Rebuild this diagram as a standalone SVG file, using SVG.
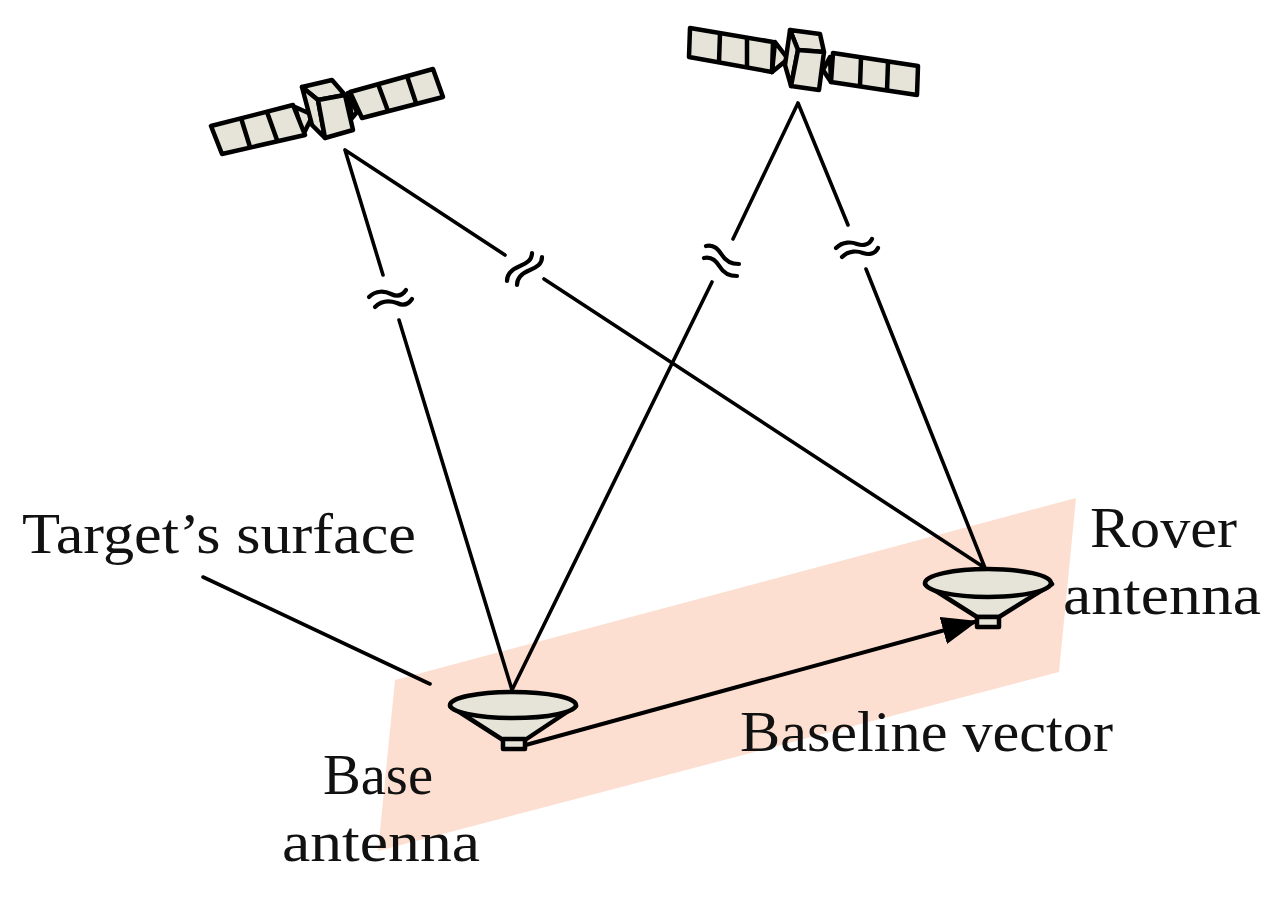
<svg xmlns="http://www.w3.org/2000/svg" width="1280" height="907" viewBox="0 0 1280 907">
<style>
.s{fill:#e6e4d8;stroke:#000;stroke-width:4.5;stroke-linejoin:round}
.d{fill:none;stroke:#000;stroke-width:4.5}
.l{fill:none;stroke:#000;stroke-width:3.6;stroke-linecap:round}
.w{fill:none;stroke:#000;stroke-width:4.2;stroke-linecap:round}
.t{font-family:"Liberation Serif",serif;font-size:58px;fill:#111}
</style>
<defs><marker id="a" markerUnits="userSpaceOnUse" markerWidth="40" markerHeight="30" refX="36" refY="14" orient="auto"><path d="M0,0L36,14L0,28Z" fill="#000"/></marker></defs>
<rect width="1280" height="907" fill="#fff"/>
<g id="surface"><polygon points="395,680 1076,498 1059,672 378,851" fill="#fcdfd0"/></g>
<g id="connectors">
<path class="l" d="M345,150L383,275M399,320L512,690M345,150L505,255M544,279L985,568M798,103L733,239M712,282L512,690M798,103L848,225M866,269L985,568M203,577L430,684"/>
<path class="w" d="M369,297C376,290 385,291 391,294C397,297 402,296 406,290M375,307C382,300 391,301 397,303C403,306 408,305 412,299"/>
<path class="w" d="M507,281C507,272 515,268 520,266C527,263 532,260 532,253M517,285C517,276 525,272 530,270C537,267 542,264 542,257"/>
<path class="w" d="M706,246C714,244 719,250 722,255C726,262 733,264 739,264M704,258C712,256 717,262 720,267C724,274 731,276 737,276"/>
<path class="w" d="M836,248C843,241 852,242 857,244C863,246 869,245 872,239M842,257C849,250 858,251 863,253C869,255 875,254 878,248"/>
<path d="M522,746L978,621" fill="none" stroke="#000" stroke-width="4" marker-end="url(#a)"/>
</g>
<g id="satellite-1">
<polygon class="s" points="295,107 313,115 303,135"/>
<polygon class="s" points="211,126 293,105 305,135 222,154"/>
<path class="d" d="M241,118L250,147M267,112L277,140"/>
<polygon class="s" points="348,93 357,112 352,118"/>
<polygon class="s" points="350,92 433,69 443,97 362,118"/>
<path class="d" d="M378,84L388,111M407,76L416,103"/>
<polygon class="s" points="302,87 332,80 345,95 318,100"/>
<polygon class="s" points="302,87 318,100 325,138 312,125"/>
<polygon class="s" points="318,100 345,95 353,130 325,138"/>
</g>
<g id="satellite-2">
<polygon class="s" points="775,42 788,59 772,72"/>
<polygon class="s" points="690,28 773,42 772,72 689,57"/>
<path class="d" d="M720,33L719,62M747,38L747,67"/>
<polygon class="s" points="830,57 823,70 831,82"/>
<polygon class="s" points="833,53 918,66 917,95 831,82"/>
<path class="d" d="M861,58L860,86M888,62L887,91"/>
<polygon class="s" points="790,30 820,34 824,52 798,50"/>
<polygon class="s" points="790,30 798,50 791,86 785,65"/>
<polygon class="s" points="798,50 824,52 819,90 791,86"/>
</g>
<g id="base-antenna">
<path class="s" d="M450,706L503,740H525L576,706Z"/>
<rect class="s" x="503" y="739" width="22" height="10"/>
<ellipse class="s" cx="513" cy="705" rx="63" ry="13"/>
</g>
<g id="rover-antenna">
<path class="s" d="M925,584L977,617H999L1052,584Z"/>
<rect class="s" x="977" y="617" width="22" height="10"/>
<ellipse class="s" cx="988" cy="583" rx="63" ry="14"/>
</g>
<g id="labels">
<text class="t" x="22" y="553" textLength="394" lengthAdjust="spacingAndGlyphs">Target’s surface</text>
<text class="t" x="1090" y="547" textLength="147" lengthAdjust="spacingAndGlyphs">Rover</text>
<text class="t" x="1063" y="614" textLength="198" lengthAdjust="spacingAndGlyphs">antenna</text>
<text class="t" x="323" y="794" textLength="110" lengthAdjust="spacingAndGlyphs">Base</text>
<text class="t" x="282" y="861" textLength="198" lengthAdjust="spacingAndGlyphs">antenna</text>
<text class="t" x="740" y="751" textLength="373" lengthAdjust="spacingAndGlyphs">Baseline vector</text>
</g>
</svg>
